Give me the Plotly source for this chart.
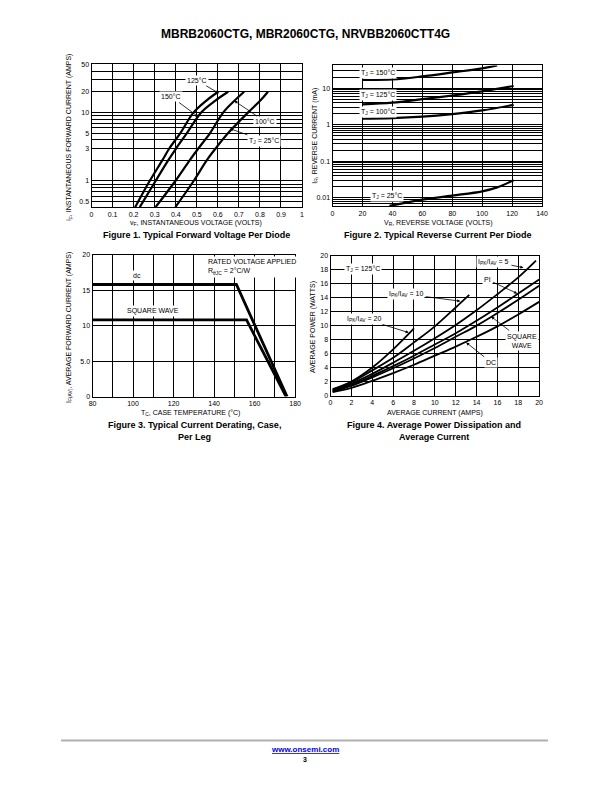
import math
import plotly.graph_objects as go

W, H = 612, 792
def px(x): return x / W
def py(y): return 1 - y / H

FONT = "Liberation Sans Narrow, Arial Narrow, Liberation Sans, Arial, sans-serif"
BOLD = "Liberation Sans, Arial, sans-serif"

# ---------------- Figure 1 data (forward voltage) ----------------
f1_curr = [0.415, 1, 2, 3, 5, 10, 15, 20]
f1_vA = [0.207, 0.276, 0.336, 0.370, 0.422, 0.485, 0.547, 0.602]
f1_vB = [0.229, 0.304, 0.364, 0.402, 0.453, 0.521, 0.590, 0.649]
f1_v100 = [0.304, 0.398, 0.466, 0.508, 0.563, 0.626, 0.681, 0.725]
f1_v25 = [0.398, 0.485, 0.547, 0.590, 0.649, 0.744, 0.803, 0.838]
f1_xticks = [0, 0.1, 0.2, 0.3, 0.4, 0.5, 0.6, 0.7, 0.8, 0.9, 1]
f1_xtext = ["0", "0.1", "0.2", "0.3", "0.4", "0.5", "0.6", "0.7", "0.8", "0.9", "1"]
f1_yticks = [0.5, 1, 3, 5, 10, 20, 50]
f1_ytext = ["0.5", "1", "3", "5", "10", "20", "50"]
f1_yminor = [0.6, 0.7, 0.8, 0.9, 2, 4, 6, 7, 8, 9, 30, 40]

# ---------------- Figure 2 data (reverse current) ----------------
f2_v150 = [20, 40, 60, 80, 100, 110]
f2_i150 = [16.8, 17.3, 21, 27, 35, 42]
f2_v125 = [20, 40, 60, 80, 100, 121]
f2_i125 = [3.6, 4.0, 5.0, 6.3, 8.2, 11.5]
f2_v100 = [20, 40, 60, 80, 100, 121]
f2_i100 = [1.45, 1.5, 1.65, 1.95, 2.45, 3.5]
f2_v25 = [38, 60, 80, 100, 110, 121]
f2_i25 = [0.0059, 0.0088, 0.0113, 0.0148, 0.019, 0.030]
f2_xticks = [0, 20, 40, 60, 80, 100, 120, 140]
f2_xtext = ["0", "20", "40", "60", "80", "100", "120", "140"]
f2_yticks = [0.01, 0.1, 1, 10]
f2_ytext = ["0.01", "0.1", "1", "10"]
f2_yminor = [0.006, 0.007, 0.008, 0.009,
             0.02, 0.03, 0.04, 0.05, 0.06, 0.07, 0.08, 0.09,
             0.2, 0.3, 0.4, 0.5, 0.6, 0.7, 0.8, 0.9,
             2, 3, 4, 5, 6, 7, 8, 9,
             20, 30, 40]

# ---------------- Figure 3 data (current derating) ----------------
f3_dc_t = [80, 151, 176]
f3_dc_i = [15.8, 15.8, 0]
f3_sw_t = [80, 156, 175.5]
f3_sw_i = [10.8, 10.8, 0]
f3_xticks = [80, 100, 120, 140, 160, 180]
f3_xtext = ["80", "100", "120", "140", "160", "180"]
f3_xminor = [90, 110, 130, 150, 170]
f3_yticks = [0, 5, 10, 15, 20]
f3_ytext = ["0", "5.0", "10", "15", "20"]

# ---------------- Figure 4 data (power dissipation) ----------------
f4_x20 = [0.2, 2, 4, 6, 8]
f4_y20 = [0.9, 2.0, 4.0, 6.6, 9.6]
f4_x10 = [0.2, 2, 4, 6, 8, 10, 12, 13.3]
f4_y10 = [0.8, 1.9, 3.6, 5.4, 7.6, 9.9, 12.6, 14.4]
f4_x5 = [0.2, 2, 4, 6, 8, 10, 12, 14, 16, 18, 19.7]
f4_y5 = [0.7, 1.7, 3.1, 4.7, 6.4, 8.2, 10.1, 12.2, 14.5, 16.9, 19.3]
f4_xpi = [0.2, 2, 4, 6, 8, 10, 12, 14, 16, 18, 20]
f4_ypi = [0.6, 1.5, 2.8, 4.2, 5.7, 7.3, 8.9, 10.7, 12.6, 14.6, 16.6]
f4_xsw = [0.2, 2, 4, 6, 8, 10, 12, 14, 16, 18, 20]
f4_ysw = [0.55, 1.4, 2.6, 3.9, 5.3, 6.8, 8.4, 10.0, 11.8, 13.7, 15.7]
f4_xdc = [0.2, 2, 4, 6, 8, 10, 12, 14, 16, 18, 20]
f4_ydc = [0.5, 1.1, 2.1, 3.2, 4.4, 5.7, 7.0, 8.4, 9.9, 11.6, 13.4]
f4_ticks = [0, 2, 4, 6, 8, 10, 12, 14, 16, 18, 20]
f4_text = [str(v) for v in f4_ticks]

fig = go.Figure()

def line(x, y, xa, ya, w=2.2, shape="spline"):
    fig.add_trace(go.Scatter(x=x, y=y, xaxis=xa, yaxis=ya, mode="lines",
                             line=dict(color="black", width=w, shape=shape),
                             showlegend=False, hoverinfo="skip"))

for v in (f1_vA, f1_vB, f1_v100, f1_v25):
    line(v, f1_curr, "x", "y")
line(f2_v150, f2_i150, "x2", "y2")
line(f2_v125, f2_i125, "x2", "y2")
line(f2_v100, f2_i100, "x2", "y2")
line(f2_v25, f2_i25, "x2", "y2")
line(f3_dc_t, f3_dc_i, "x3", "y3", w=2.8, shape="linear")
line(f3_sw_t, f3_sw_i, "x3", "y3", w=2.8, shape="linear")
for xx, yy in ((f4_x20, f4_y20), (f4_x10, f4_y10), (f4_x5, f4_y5),
               (f4_xpi, f4_ypi), (f4_xsw, f4_ysw), (f4_xdc, f4_ydc)):
    line(xx, yy, "x4", "y4", w=1.8)

def axis(domain, anchor, rng, tv, tt, typ="linear", minor=None):
    d = dict(domain=domain, anchor=anchor, range=rng, type=typ,
             tickmode="array", tickvals=tv, ticktext=tt,
             showgrid=True, gridcolor="black", gridwidth=1.1,
             showline=True, linecolor="black", linewidth=1.1, mirror=True,
             ticks="", zeroline=False, fixedrange=True,
             tickfont=dict(family=FONT, size=7, color="black"))
    if minor:
        d["minor"] = dict(tickmode="array", tickvals=minor, showgrid=True,
                          gridcolor="black", gridwidth=1.1, ticks="")
    return d

L = math.log10
fig.update_layout(
    width=W, height=H, margin=dict(l=0, r=0, t=0, b=0),
    paper_bgcolor="white", plot_bgcolor="white",
    xaxis=axis([px(89), px(303)], "y", [0, 1], f1_xticks, f1_xtext),
    yaxis=axis([py(205), py(61)], "x", [L(0.415), L(50)], f1_yticks, f1_ytext, "log", f1_yminor),
    xaxis2=axis([px(334), px(547)], "y2", [0, 140], f2_xticks, f2_xtext),
    yaxis2=axis([py(204), py(62)], "x2", [L(0.0058), L(42)], f2_yticks, f2_ytext, "log", f2_yminor),
    xaxis3=axis([px(90), px(296)], "y3", [80, 180], f3_xticks, f3_xtext, minor=f3_xminor),
    yaxis3=axis([py(396), py(253)], "x3", [0, 20], f3_yticks, f3_ytext),
    xaxis4=axis([px(332), px(544)], "y4", [0, 20], f4_ticks, f4_text),
    yaxis4=axis([py(395), py(254)], "x4", [0, 20], f4_ticks, f4_text),
)

ann = []
def txt(x, y, s, size=7, bold=False, angle=0, xanchor="center", color="black", bg=None, align="center"):
    d = dict(x=px(x), y=py(y), xref="paper", yref="paper", text=s, showarrow=False,
             textangle=angle, xanchor=xanchor, yanchor="middle", align=align,
             font=dict(family=BOLD if bold else FONT, size=size, color=color))
    if bg:
        d["bgcolor"] = bg
    ann.append(d)

def lab(x, y, s, xr, yr, ax=0, ay=0, arrow=False, size=7, bg="white"):
    d = dict(x=x, y=y, xref=xr, yref=yr, text=s, showarrow=arrow, bgcolor=bg, borderpad=1,
             font=dict(family=FONT, size=size, color="black"))
    if arrow:
        d.update(ax=ax, ay=ay, axref="pixel", ayref="pixel", arrowhead=2, arrowsize=0.8,
                 arrowwidth=0.8, arrowcolor="black", standoff=0, startstandoff=1)
    ann.append(d)

# page text
txt(306, 30, "<b>MBRB2060CTG, MBR2060CTG, NRVBB2060CTT4G</b>", size=12, bold=True)
txt(196, 233, "<b>Figure 1. Typical Forward Voltage Per Diode</b>", size=9, bold=True)
txt(441, 233, "<b>Figure 2. Typical Reverse Current Per Diode</b>", size=9, bold=True)
txt(194, 425, "<b>Figure 3. Typical Current Derating, Case,</b>", size=9, bold=True)
txt(194, 437, "<b>Per Leg</b>", size=9, bold=True)
txt(437, 425, "<b>Figure 4. Average Power Dissipation and</b>", size=9, bold=True)
txt(437, 437, "<b>Average Current</b>", size=9, bold=True)

# axis titles
txt(195, 221, "v<sub>F</sub>, INSTANTANEOUS VOLTAGE (VOLTS)")
txt(66, 134, "i<sub>F</sub>, INSTANTANEOUS FORWARD CURRENT (AMPS)", angle=-90)
txt(442, 221, "V<sub>R</sub>, REVERSE VOLTAGE (VOLTS)")
txt(316, 133, "I<sub>R</sub>, REVERSE CURRENT (mA)", angle=-90)
txt(190, 413, "T<sub>C</sub>, CASE TEMPERATURE (°C)")
txt(66, 326, "I<sub>F(AV)</sub>, AVERAGE FORWARD CURRENT (AMPS)", angle=-90)
txt(438, 413, "AVERAGE CURRENT (AMPS)")
txt(314, 326, "AVERAGE POWER (WATTS)", angle=-90)

# Figure 1 labels
lab(0.605, L(19.0), "125°C", "x", "y", -22, -13, True)
lab(0.508, L(8.6), "150°C", "x", "y", -27, -20, True)
lab(0.678, L(14.8), "100°C", "x", "y", 31, 21, True)
lab(0.657, L(5.8), "T<sub>J</sub> = 25°C", "x", "y", 34, 12, True)

# Figure 2 labels
lab(30.5, L(26.5), "T<sub>J</sub> = 150°C", "x2", "y2")
lab(30.5, L(6.3), "T<sub>J</sub> = 125°C", "x2", "y2")
lab(30.5, L(2.2), "T<sub>J</sub> = 100°C", "x2", "y2")
lab(36.5, L(0.011), "T<sub>J</sub> = 25°C", "x2", "y2")

# Figure 3 labels
lab(101.8, 17.1, "dc", "x3", "y3")
lab(110, 12.0, "SQUARE WAVE", "x3", "y3")
txt(205, 265, "RATED VOLTAGE APPLIED<br>R<sub>θJC</sub> = 2°C/W", xanchor="left", bg="white", align="left")

# Figure 4 labels
lab(3.1, 18.1, "T<sub>J</sub> = 125°C", "x4", "y4")
lab(18.5, 18.3, "I<sub>PK</sub>/I<sub>AV</sub> = 5", "x4", "y4", -30, -6, True)
lab(17.9, 14.6, "PI", "x4", "y4", -30, -14, True)
lab(12.45, 13.5, "I<sub>PK</sub>/I<sub>AV</sub> = 10", "x4", "y4", -54, -7, True)
lab(7.5, 9.0, "I<sub>PK</sub>/I<sub>AV</sub> = 20", "x4", "y4", -45, -14, True)
lab(15.4, 11.3, "SQUARE<br>WAVE", "x4", "y4", 31, 24, True)
lab(13.0, 7.6, "DC", "x4", "y4", 25, 20, True)

# footer
txt(306, 752, "<b><u>www.onsemi.com</u></b>", size=8, bold=True, color="#0000ee")
txt(306, 762, "<b>3</b>", size=7, bold=True)

fig.update_layout(annotations=ann)
fig.add_shape(type="line", xref="paper", yref="paper", x0=px(58), x1=px(553), y0=py(743), y1=py(743),
              line=dict(color="#b0b0b0", width=2))

fig.write_html("out.html")
